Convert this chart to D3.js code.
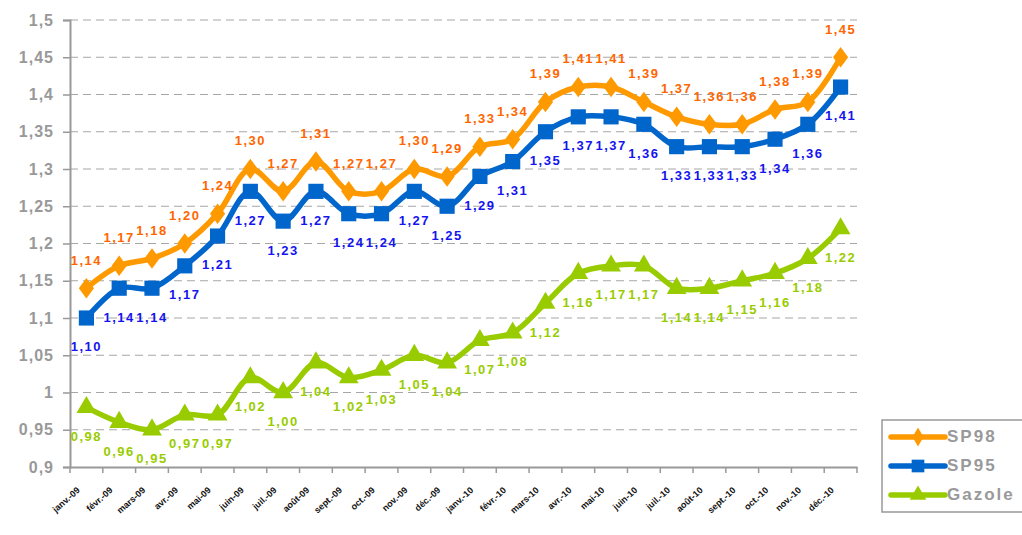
<!DOCTYPE html>
<meta charset="utf-8">
<style>
  body { margin: 0; background: #fff; }
  text { font-family: "Liberation Sans", Arial, sans-serif; }
</style>
<script src="https://d3js.org/d3.v7.min.js"></script>
<div id="chart"></div>
<script>
  // months (x categories)
  var months = ["janv.-09", "févr.-09", "mars-09", "avr.-09", "mai-09", "juin-09",
    "juil.-09", "août-09", "sept.-09", "oct.-09", "nov.-09", "déc.-09",
    "janv.-10", "févr.-10", "mars-10", "avr.-10", "mai-10", "juin-10",
    "juil.-10", "août-10", "sept.-10", "oct.-10", "nov.-10", "déc.-10"];

  var sp98 = [1.14, 1.17, 1.18, 1.20, 1.24, 1.30, 1.27, 1.31, 1.27, 1.27, 1.30, 1.29,
    1.33, 1.34, 1.39, 1.41, 1.41, 1.39, 1.37, 1.36, 1.36, 1.38, 1.39, 1.45];
  var sp95 = [1.10, 1.14, 1.14, 1.17, 1.21, 1.27, 1.23, 1.27, 1.24, 1.24, 1.27, 1.25,
    1.29, 1.31, 1.35, 1.37, 1.37, 1.36, 1.33, 1.33, 1.33, 1.34, 1.36, 1.41];
  var gazole = [0.98, 0.96, 0.95, 0.97, 0.97, 1.02, 1.00, 1.04, 1.02, 1.03, 1.05, 1.04,
    1.07, 1.08, 1.12, 1.16, 1.17, 1.17, 1.14, 1.14, 1.15, 1.16, 1.18, 1.22];

  var yTicks = [0.9, 0.95, 1, 1.05, 1.1, 1.15, 1.2, 1.25, 1.3, 1.35, 1.4, 1.45, 1.5];

  var width = 1022, height = 535;
  var margin = { left: 70, right: 165, top: 20, bottom: 68 };

  var svg = d3.select("#chart").append("svg")
    .attr("width", width)
    .attr("height", height);

  var x = d3.scaleBand()
    .domain(months)
    .range([margin.left, width - margin.right]);

  var y = d3.scaleLinear()
    .domain([0.9, 1.5])
    .range([height - margin.bottom, margin.top]);

  var cx = function (i) { return x(months[i]) + x.bandwidth() / 2; };

  // dashed grid lines
  svg.append("g")
    .selectAll("line")
    .data(yTicks.slice(1))
    .enter().append("line")
    .attr("x1", margin.left)
    .attr("x2", width - margin.right)
    .attr("y1", function (d) { return y(d); })
    .attr("y2", function (d) { return y(d); })
    .attr("stroke", "#a6a6a6")
    .attr("stroke-width", 1)
    .attr("stroke-dasharray", "8,5");

  // y axis
  var yAxis = svg.append("g")
    .attr("transform", "translate(" + margin.left + ",0)")
    .call(d3.axisLeft(y).tickValues(yTicks).tickSize(7).tickPadding(9)
      .tickFormat(function (d) { return String(d).replace(".", ","); }));
  yAxis.select(".domain").attr("stroke", "#999").attr("stroke-width", 2);
  yAxis.selectAll(".tick line").attr("stroke", "#999").attr("stroke-width", 1.5);
  yAxis.selectAll("text")
    .attr("fill", "#999")
    .style("font-size", "16px")
    .style("font-weight", "bold")
    .style("letter-spacing", "1px");

  // x axis
  var xAxis = svg.append("g")
    .attr("transform", "translate(0," + (height - margin.bottom) + ")")
    .call(d3.axisBottom(x).tickSize(0).tickFormat(""));
  xAxis.select(".domain").attr("stroke", "#999").attr("stroke-width", 2);
  svg.append("g")
    .selectAll("line")
    .data(months.concat(["end"]))
    .enter().append("line")
    .attr("x1", function (d, i) { return margin.left + i * x.bandwidth(); })
    .attr("x2", function (d, i) { return margin.left + i * x.bandwidth(); })
    .attr("y1", height - margin.bottom)
    .attr("y2", height - margin.bottom + 6)
    .attr("stroke", "#999")
    .attr("stroke-width", 1.5);

  svg.append("g")
    .selectAll("text")
    .data(months)
    .enter().append("text")
    .attr("transform", function (d, i) {
      return "translate(" + (cx(i) - 6) + "," + (height - margin.bottom + 24) + ") rotate(-42)";
    })
    .attr("text-anchor", "end")
    .attr("fill", "#111")
    .style("font-size", "9px")
    .style("font-weight", "bold")
    .text(function (d) { return d; });

  var series = [
    { name: "SP98", values: sp98, line: "#ff9900", label: "#ff6600", shape: d3.symbolDiamond, size: 150, dy: -27 },
    { name: "SP95", values: sp95, line: "#0066cc", label: "#1515f0", shape: d3.symbolSquare, size: 230, dy: 30 },
    { name: "Gazole", values: gazole, line: "#99cc00", label: "#99cc00", shape: d3.symbolTriangle, size: 170, dy: 30 }
  ];

  var line = d3.line()
    .x(function (d, i) { return cx(i); })
    .y(function (d) { return y(d); })
    .curve(d3.curveCatmullRom.alpha(0.5));

  series.forEach(function (s) {
    var g = svg.append("g");
    g.append("path")
      .datum(s.values)
      .attr("fill", "none")
      .attr("stroke", s.line)
      .attr("stroke-width", 5.5)
      .attr("stroke-linejoin", "round")
      .attr("d", line);

    g.selectAll(".mark")
      .data(s.values)
      .enter().append("path")
      .attr("class", "mark")
      .attr("transform", function (d, i) {
        return "translate(" + cx(i) + "," + y(d) + ")" + (s.shape === d3.symbolDiamond ? " scale(1.15,0.9)" : "");
      })
      .attr("d", d3.symbol().type(s.shape).size(s.size))
      .attr("fill", s.line);

    g.selectAll(".lab")
      .data(s.values)
      .enter().append("text")
      .attr("class", "lab")
      .attr("x", function (d, i) { return cx(i); })
      .attr("y", function (d) { return y(d) + s.dy; })
      .attr("text-anchor", "middle")
      .attr("dominant-baseline", "middle")
      .attr("fill", s.label)
      .style("font-size", "13px")
      .style("font-weight", "bold")
      .style("letter-spacing", "1.5px")
      .text(function (d) { return d.toFixed(2).replace(".", ","); });
  });

  // legend
  var legend = svg.append("g").attr("transform", "translate(882,420)");
  legend.append("rect")
    .attr("width", 150)
    .attr("height", 92)
    .attr("fill", "#fff")
    .attr("stroke", "#999")
    .attr("stroke-width", 1.5);

  series.forEach(function (s, i) {
    var ly = 17 + i * 29;
    legend.append("line")
      .attr("x1", 9).attr("x2", 63)
      .attr("y1", ly).attr("y2", ly)
      .attr("stroke", s.line)
      .attr("stroke-width", 5.5)
      .attr("stroke-linecap", "round");
    legend.append("path")
      .attr("transform", "translate(36," + ly + ")")
      .attr("d", d3.symbol().type(s.shape).size(s.size * 0.7))
      .attr("fill", s.line);
    legend.append("text")
      .attr("x", 65)
      .attr("y", ly + 1)
      .attr("dominant-baseline", "middle")
      .attr("fill", "#999")
      .style("font-size", "17px")
      .style("font-weight", "bold")
      .style("letter-spacing", "2px")
      .text(s.name);
  });
</script>
